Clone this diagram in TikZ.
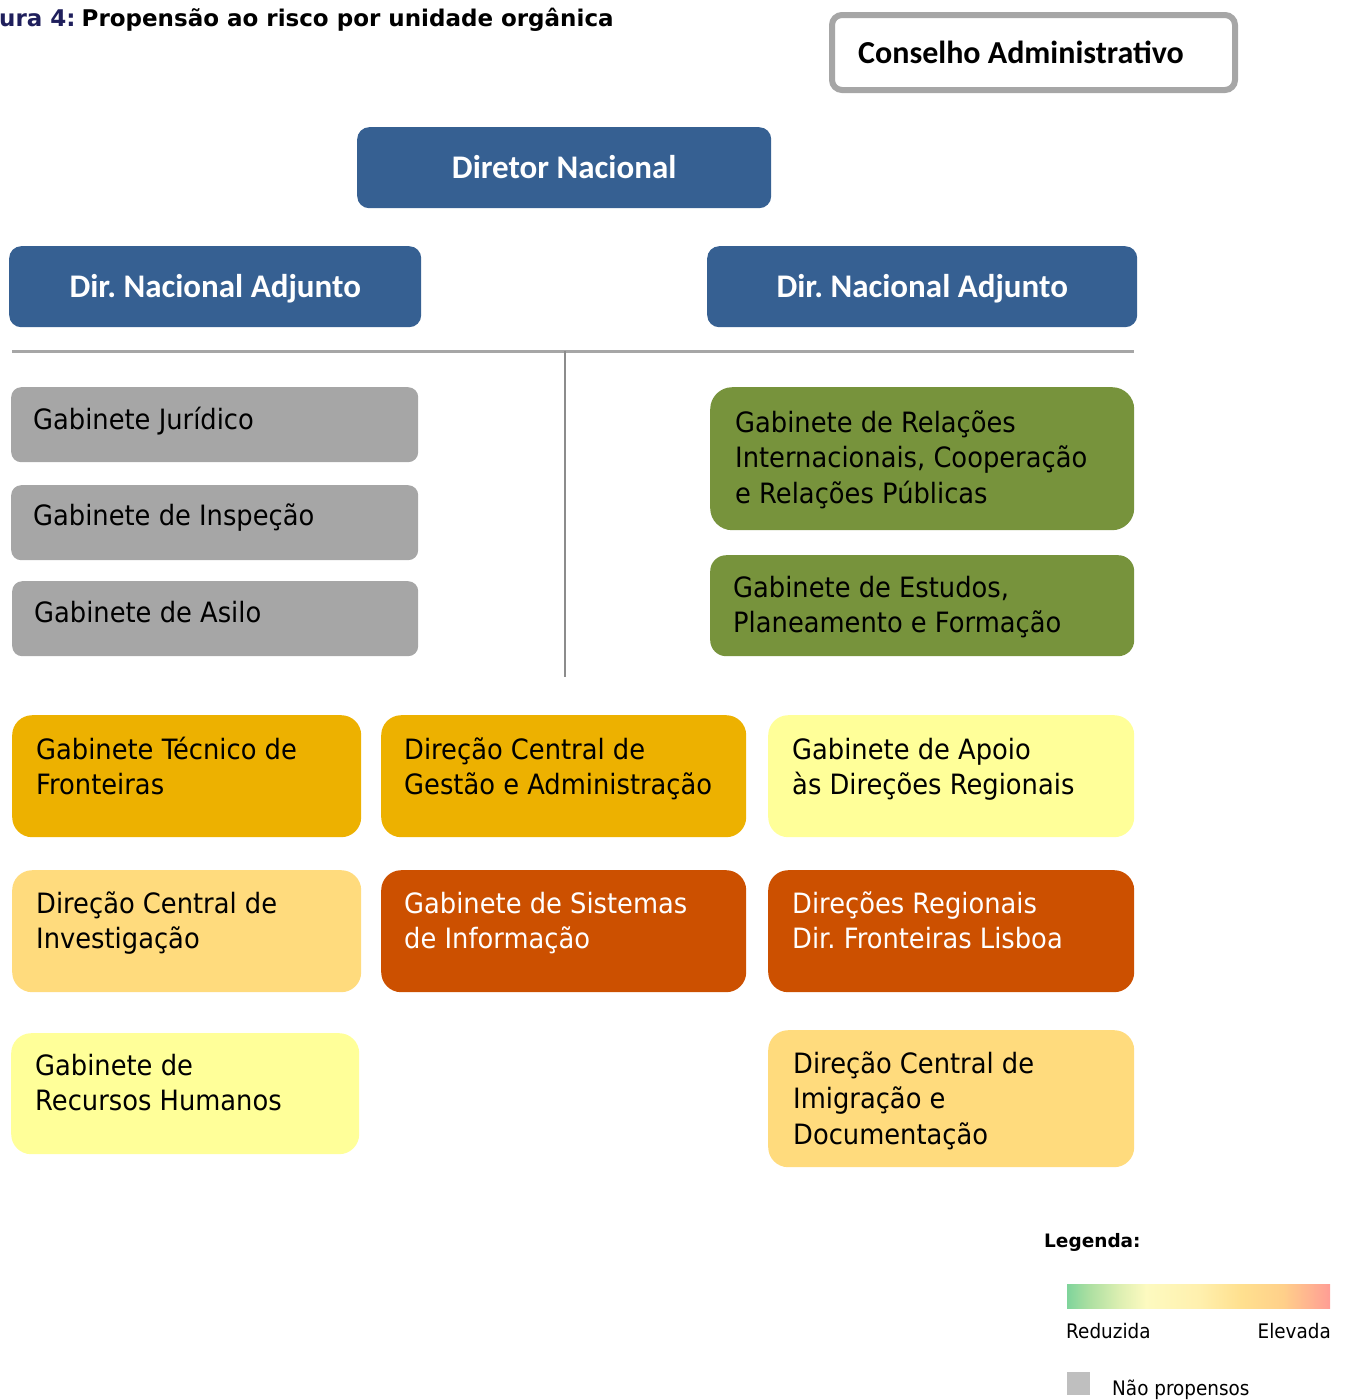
\documentclass[tikz,border=0pt]{standalone}
\usepackage{fontspec}
\setmainfont{DejaVu Sans}[FakeStretch=0.92]
\newfontfamily\headfont{DejaVu Sans}
\newfontfamily\califont{Carlito}
\usetikzlibrary{calc}
\frenchspacing

% palette
\definecolor{chiefblue}{HTML}{366092}
\definecolor{framegray}{HTML}{A6A6A6}
\definecolor{neutralgray}{HTML}{A6A6A6}
\definecolor{olivegreen}{HTML}{77933C}
\definecolor{amber}{HTML}{EDB100}
\definecolor{paleamber}{HTML}{FFDB7D}
\definecolor{rust}{HTML}{CC5000}
\definecolor{paleyellow}{HTML}{FFFF99}
\definecolor{titlenavy}{HTML}{1F1F5C}
\definecolor{rulegray}{HTML}{A6A6A6}
\definecolor{stemgray}{HTML}{8C8C8C}
\definecolor{keygray}{HTML}{BFBFBF}
\definecolor{rA}{HTML}{7FD49B}
\definecolor{rB}{HTML}{ABDFA1}
\definecolor{rC}{HTML}{DDEFB2}
\definecolor{rD}{HTML}{FDFAC0}
\definecolor{rE}{HTML}{FFF0AE}
\definecolor{rF}{HTML}{FFE08F}
\definecolor{rG}{HTML}{FFD08A}
\definecolor{rH}{HTML}{FF9D95}

\pgfdeclarehorizontalshading{riskscale}{100bp}{%
  color(0bp)=(rA); color(25bp)=(rA); color(29bp)=(rB); color(35bp)=(rC);
  color(40bp)=(rD); color(50bp)=(rE); color(58bp)=(rF); color(66bp)=(rG);
  color(75bp)=(rH); color(100bp)=(rH)}

% multi-line label whose baseline is that of its first line
\newcommand\ml[1]{\begin{tabular}[t]{@{}l@{}}#1\end{tabular}}

\tikzset{
  unitbox/.style={draw=none, inner sep=0pt, anchor=north west},
  chiefbox/.style={unitbox, fill=chiefblue, rounded corners=12pt, text=white,
    font=\califont\bfseries\fontsize{33}{40}\selectfont,
    text height=22pt, text depth=0pt},
  unitlabel/.style={inner sep=0pt, anchor=base west,
    font=\fontsize{28}{35.5}\selectfont},
}

\begin{document}
\begin{tikzpicture}[x=1pt, y=-1pt]
\useasboundingbox (0,0) rectangle (1347,1400);

% caption
\node[inner sep=0pt, anchor=base west, font=\headfont\bfseries\fontsize{23}{28}\selectfont]
  (caption) at (-1,26) {\textcolor{titlenavy}{ura 4:}\hspace{-2pt} Propensão ao risco por unidade orgânica};

% board (anchor sits on the outer edge of the frame line)
\node[draw=framegray, line width=6pt, fill=white, rounded corners=10pt, inner sep=0pt,
  anchor=north west, minimum width=403pt, minimum height=75pt] (board) at (829,12) {};
\node[inner sep=0pt, anchor=base west, font=\califont\bfseries\fontsize{32}{38}\selectfont]
  (board-t) at (858,63) {Conselho Administrativo};

% directors
\node[chiefbox, minimum width=414pt, minimum height=81pt] (dn) at (357,127) {Diretor Nacional};
\node[chiefbox, minimum width=412pt, minimum height=81pt] (dnaL) at (9,246) {Dir. Nacional Adjunto};
\node[chiefbox, minimum width=430pt, minimum height=81pt] (dnaR) at (707,246) {Dir. Nacional Adjunto};

% dividing rules
\coordinate (railL) at (12,351);
\coordinate (railR) at (1134,351);
\coordinate (stemT) at (565,351);
\coordinate (stemB) at (565,677);
\draw[rulegray, line width=3pt] (railL) -- (railR);
\draw[stemgray, line width=2pt] (stemT) -- (stemB);

% offices without risk propensity
\node[unitbox, fill=neutralgray, rounded corners=10pt, minimum width=407pt, minimum height=75pt] (jur) at (11,387) {};
\node[unitlabel] (jur-t) at (33,429) {Gabinete Jurídico};
\node[unitbox, fill=neutralgray, rounded corners=10pt, minimum width=407pt, minimum height=75pt] (insp) at (11,485) {};
\node[unitlabel] (insp-t) at (33,525) {Gabinete de Inspeção};
\node[unitbox, fill=neutralgray, rounded corners=10pt, minimum width=406pt, minimum height=75pt] (asilo) at (12,581) {};
\node[unitlabel] (asilo-t) at (34,622) {Gabinete de Asilo};

% green offices
\node[unitbox, fill=olivegreen, rounded corners=22pt, minimum width=424pt, minimum height=143pt] (grri) at (710,387) {};
\node[unitlabel] (grri-t) at (735,432) {\ml{Gabinete de Relações\\Internacionais, Cooperação\\e Relações Públicas}};
\node[unitbox, fill=olivegreen, rounded corners=16pt, minimum width=424pt, minimum height=101pt] (gepf) at (710,555) {};
\node[unitlabel] (gepf-t) at (733,597) {\ml{Gabinete de Estudos,\\Planeamento e Formação}};

% first row
\node[unitbox, fill=amber, rounded corners=20pt, minimum width=349pt, minimum height=122pt] (gtf) at (12,715) {};
\node[unitlabel] (gtf-t) at (36,759) {\ml{Gabinete Técnico de\\Fronteiras}};
\node[unitbox, fill=amber, rounded corners=20pt, minimum width=365pt, minimum height=122pt] (dcga) at (381,715) {};
\node[unitlabel] (dcga-t) at (404,759) {\ml{Direção Central de\\Gestão e Administração}};
\node[unitbox, fill=paleyellow, rounded corners=20pt, minimum width=366pt, minimum height=122pt] (gadr) at (768,715) {};
\node[unitlabel] (gadr-t) at (792,759) {\ml{Gabinete de Apoio\\às Direções Regionais}};

% second row
\node[unitbox, fill=paleamber, rounded corners=20pt, minimum width=349pt, minimum height=122pt] (dci) at (12,870) {};
\node[unitlabel] (dci-t) at (36,913) {\ml{Direção Central de\\Investigação}};
\node[unitbox, fill=rust, rounded corners=20pt, minimum width=365pt, minimum height=122pt] (gsi) at (381,870) {};
\node[unitlabel, text=white] (gsi-t) at (404,913) {\ml{Gabinete de Sistemas\\de Informação}};
\node[unitbox, fill=rust, rounded corners=20pt, minimum width=366pt, minimum height=122pt] (dr) at (768,870) {};
\node[unitlabel, text=white] (dr-t) at (792,913) {\ml{Direções Regionais\\Dir. Fronteiras Lisboa}};

% third row
\node[unitbox, fill=paleyellow, rounded corners=20pt, minimum width=348pt, minimum height=121pt] (grh) at (11,1033) {};
\node[unitlabel] (grh-t) at (35,1075) {\ml{Gabinete de\\Recursos Humanos}};
\node[unitbox, fill=paleamber, rounded corners=20pt, minimum width=366pt, minimum height=137pt] (dcid) at (768,1030) {};
\node[unitlabel] (dcid-t) at (793,1073) {\ml{Direção Central de\\Imigração e\\Documentação}};

% legend
\node[inner sep=0pt, anchor=base west, font=\headfont\bfseries\fontsize{18.5}{22}\selectfont]
  (key-title) at (1044,1247) {Legenda:};
\node[unitbox, shading=riskscale, minimum width=263pt, minimum height=24pt] (key-bar) at (1067,1284) {};
\node[inner sep=0pt, anchor=base west, font=\fontsize{20}{24}\selectfont] (key-low) at (1066,1338) {Reduzida};
\node[inner sep=0pt, anchor=base east, font=\fontsize{20}{24}\selectfont] (key-high) at (1331,1338) {Elevada};
\node[unitbox, fill=keygray, minimum width=23pt, minimum height=23pt] (key-none) at (1067,1372) {};
\node[inner sep=0pt, anchor=base west, font=\fontsize{20}{24}\selectfont] (key-none-t) at (1112,1395) {Não propensos};
\end{tikzpicture}
\end{document}
